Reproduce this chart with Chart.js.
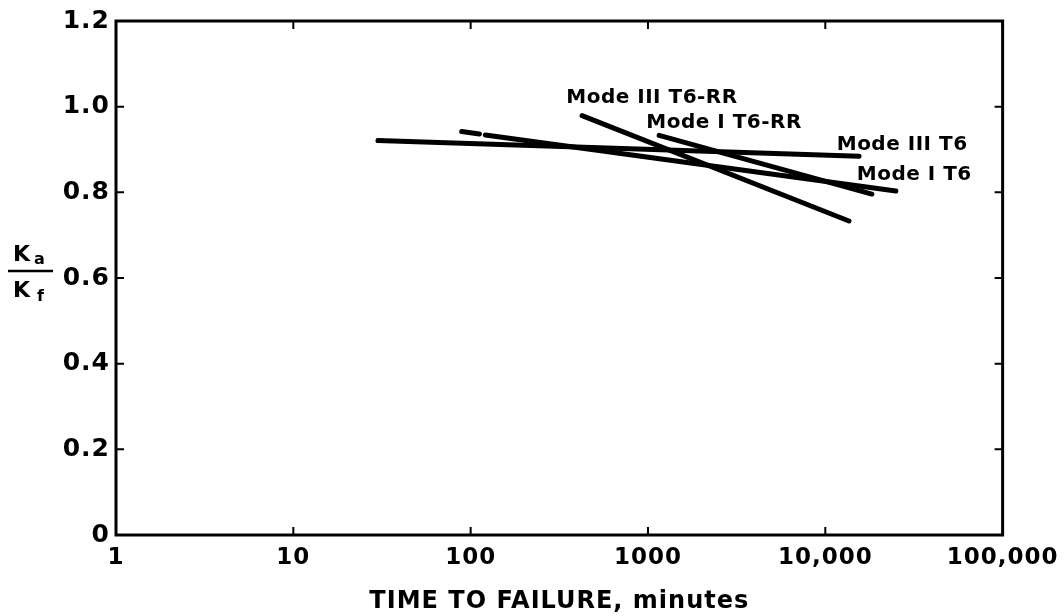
<!DOCTYPE html>
<html>
<head>
<meta charset="utf-8">
<script src="https://cdn.jsdelivr.net/npm/chart.js@4/dist/chart.umd.min.js"></script>
<style>
  html, body { margin: 0; padding: 0; background: #fff; }
  #wrap { width: 1064px; height: 616px; position: relative; }
</style>
</head>
<body>
<div id="wrap"><canvas id="c" width="1064" height="616"></canvas></div>
<script>
// ---- data ----
const seriesNames = ["Mode III T6", "Mode I T6", "Mode III T6-RR", "Mode I T6-RR"];
const modeIIIT6 = [ {x: 30, y: 0.921}, {x: 15500, y: 0.884} ];
const modeIT6 = [ {x: 89, y: 0.942}, {x: 112, y: 0.936}, {x: 116, y: null}, {x: 121, y: 0.934}, {x: 25000, y: 0.803} ];
const modeIIIT6RR = [ {x: 425, y: 0.979}, {x: 13600, y: 0.733} ];
const modeIT6RR = [ {x: 1156, y: 0.933}, {x: 18300, y: 0.796} ];
const xTickValues = [1, 10, 100, 1000, 10000, 100000];
const xTickLabels = ["1", "10", "100", "1000", "10,000", "100,000"];
const yTickValues = [0, 0.2, 0.4, 0.6, 0.8, 1.0, 1.2];
const yTickLabels = ["0", "0.2", "0.4", "0.6", "0.8", "1.0", "1.2"];
const lineLabels = ["Mode III T6-RR", "Mode I T6-RR", "Mode III T6", "Mode I T6"];
const lineLabelAnchorX = [346, 978, 11600, 15060];
const lineLabelAnchorY = [1.021, 0.963, 0.912, 0.840];
const xTitle = "TIME TO FAILURE, minutes";

const INK = "#000";

const decorations = {
  id: "decorations",
  beforeDraw(chart) { chart.ctx.letterSpacing = "1px"; },
  afterDraw(chart) {
    const ctx = chart.ctx;
    const xs = chart.scales.x, ys = chart.scales.y;
    const a = chart.chartArea;
    ctx.save();
    ctx.letterSpacing = "0px";
    ctx.strokeStyle = INK;
    // frame
    ctx.lineWidth = 3;
    ctx.strokeRect(a.left, a.top, a.right - a.left, a.bottom - a.top);
    // inward ticks
    ctx.lineWidth = 2;
    ctx.beginPath();
    yTickValues.forEach(v => {
      const py = ys.getPixelForValue(v);
      ctx.moveTo(a.left, py); ctx.lineTo(a.left + 8, py);
      ctx.moveTo(a.right, py); ctx.lineTo(a.right - 8, py);
    });
    xTickValues.forEach(v => {
      const px = xs.getPixelForValue(v);
      ctx.moveTo(px, a.bottom); ctx.lineTo(px, a.bottom - 8);
      ctx.moveTo(px, a.top); ctx.lineTo(px, a.top + 8);
    });
    ctx.stroke();
    // line labels
    ctx.fillStyle = INK;
    ctx.font = "bold 20px 'DejaVu Sans'";
    ctx.letterSpacing = "0.5px";
    ctx.textBaseline = "middle";
    ctx.textAlign = "left";
    lineLabels.forEach((t, i) => {
      ctx.fillText(t, xs.getPixelForValue(lineLabelAnchorX[i]), ys.getPixelForValue(lineLabelAnchorY[i]));
    });
    // y-axis title: Ka / Kf
    ctx.letterSpacing = "0px";
    ctx.textBaseline = "alphabetic";
    ctx.font = "bold 22px 'DejaVu Sans'";
    ctx.fillText("K", 13, 261);
    ctx.fillText("K", 13, 297);
    ctx.font = "bold 16px 'DejaVu Sans'";
    ctx.fillText("a", 34, 264);
    ctx.fillText("f", 37, 301);
    ctx.lineWidth = 2.5;
    ctx.beginPath();
    ctx.moveTo(8, 271); ctx.lineTo(53, 271);
    ctx.stroke();
    ctx.restore();
    ctx.letterSpacing = "0px";
  }
};

const ds = (data) => ({
  data, showLine: true, borderColor: INK, backgroundColor: INK,
  borderWidth: 5, borderCapStyle: "round", pointRadius: 0, spanGaps: false, tension: 0
});

new Chart(document.getElementById("c"), {
  type: "scatter",
  data: {
    datasets: [ds(modeIIIT6), ds(modeIT6), ds(modeIIIT6RR), ds(modeIT6RR)].map((d, i) => Object.assign(d, {label: seriesNames[i]}))
  },
  options: {
    responsive: false,
    animation: false,
    layout: { padding: { left: 0, right: 57, top: 18, bottom: 0 } },
    plugins: { legend: { display: false }, tooltip: { enabled: false } },
    scales: {
      x: {
        type: "logarithmic", min: 1, max: 100000,
        afterBuildTicks(s) { s.ticks = xTickValues.map(v => ({ value: v })); },
        afterFit(s) { s.height = 81; },
        grid: { display: false, drawTicks: false },
        border: { display: false },
        ticks: {
          color: INK, padding: 9, maxRotation: 0, autoSkip: false,
          font: { family: "'DejaVu Sans'", size: 23, weight: "bold" },
          callback(v) { const i = xTickValues.indexOf(v); return i >= 0 ? xTickLabels[i] : ""; }
        },
        title: {
          display: true, text: xTitle, color: INK,
          font: { family: "'DejaVu Sans'", size: 24, weight: "bold" },
          padding: { top: 10, bottom: 0 }
        }
      },
      y: {
        type: "linear", min: 0, max: 1.2,
        afterBuildTicks(s) { s.ticks = yTickValues.map(v => ({ value: v })); },
        afterFit(s) { s.width = 116; },
        grid: { display: false, drawTicks: false },
        border: { display: false },
        ticks: {
          color: INK, padding: 6,
          font: { family: "'DejaVu Sans'", size: 25, weight: "bold" },
          callback(v) { const i = yTickValues.findIndex(t => Math.abs(t - v) < 1e-9); return i >= 0 ? yTickLabels[i] : ""; }
        }
      }
    }
  },
  plugins: [decorations]
});
</script>
</body>
</html>
